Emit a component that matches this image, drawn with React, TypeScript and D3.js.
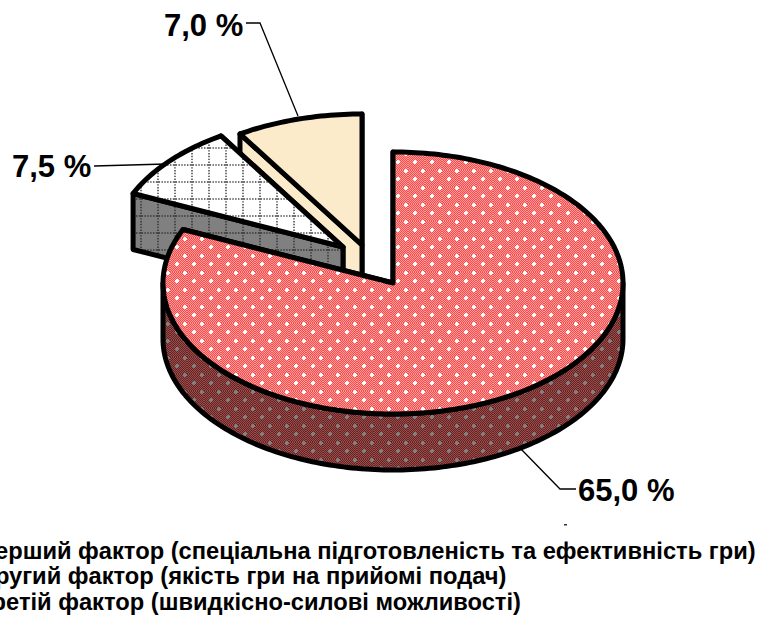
import React from "react";
import * as d3 from "d3";

const sliceNames = ["Перший фактор", "Другий фактор", "Третій фактор"];
const sliceWeights = [81.7, 9.4, 8.9];
const sliceLabels = ["65,0 %", "7,5 %", "7,0 %"];
const legendLines = [
  "Перший фактор (спеціальна підготовленість та ефективність гри)",
  "Другий фактор (якість гри на прийомі подач)",
  "Третій фактор (швидкісно-силові можливості)",
];
const centers: [number, number][] = [[393, 283], [343, 247], [362, 245]];
const topFills = ["url(#redTop)", "url(#gridTop)", "#FBEBCB"];
const wallFills = ["url(#redWall)", "url(#gridWall)", "#FBEBCB"];
const leaders: [number, number][][] = [
  [[520, 448], [560, 489], [576, 489]],
  [[166, 164], [94, 166]],
  [[298, 116], [260, 23], [246, 23]],
];
const labelPos: [number, number][] = [[578, 501], [12, 177], [164, 36]];
const legendBaselines = [559, 584, 610];

const RX = 230, RY = 131, DEPTH = 56;
const SW = 5;

const pieGen = d3.pie<number>().sort(null).startAngle(0).endAngle(2 * Math.PI);
const arcsData = pieGen(sliceWeights);
const lineGen = d3.line<[number, number]>().curve(d3.curveLinear);

function pt(c: [number, number], a: number, dy = 0): [number, number] {
  return [c[0] + RX * Math.sin(a), c[1] - RY * Math.cos(a) + dy];
}
function arcPts(c: [number, number], a0: number, a1: number, dy = 0) {
  const n = Math.max(2, Math.ceil((a1 - a0) / 0.02));
  return d3.range(n + 1).map((i) => pt(c, a0 + ((a1 - a0) * i) / n, dy));
}
function topPath(c: [number, number], a0: number, a1: number) {
  return lineGen([c, ...arcPts(c, a0, a1)]) + "Z";
}
function edgeWall(c: [number, number], a: number) {
  const p = pt(c, a);
  return lineGen([c, p, [p[0], p[1] + DEPTH], [c[0], c[1] + DEPTH]]) + "Z";
}
function rimWall(c: [number, number], a0: number, a1: number) {
  const lo = Math.max(a0, Math.PI / 2);
  const hi = Math.min(a1, (3 * Math.PI) / 2);
  if (hi <= lo) return null;
  const up = arcPts(c, lo, hi);
  const down = arcPts(c, lo, hi, DEPTH).reverse();
  return lineGen([...up, ...down]) + "Z";
}

const plus = (x: number, y: number, fill: string, k: string) => (
  <path key={k} d={`M${x - 1},${y - 1}V${y - 2}h2v1h1v2h-1v1h-2v-1h-1v-2z`} fill={fill} />
);

export default function App() {
  const order = [2, 1, 0];
  return (
    <svg width={761} height={624} style={{ position: "absolute", left: 0, top: 0, background: "#fff" }}>
      <defs>
        <pattern id="chkRed" width={2} height={2} patternUnits="userSpaceOnUse">
          <rect width={2} height={2} fill="#FF9C9C" />
          <rect width={1} height={1} fill="#FA4A4A" />
          <rect x={1} y={1} width={1} height={1} fill="#FA4A4A" />
        </pattern>
        <pattern id="redTop" width={17} height={17} patternUnits="userSpaceOnUse">
          <rect width={17} height={17} fill="url(#chkRed)" />
          {plus(7, 9, "#fff", "a")}
          {plus(15, 1, "#fff", "b")}
          {plus(-2, 1, "#fff", "c")}
          {plus(15, 18, "#fff", "d")}
          {plus(-2, 18, "#fff", "e")}
        </pattern>
        <pattern id="chkDark" width={2} height={2} patternUnits="userSpaceOnUse">
          <rect width={2} height={2} fill="#8F5050" />
          <rect width={1} height={1} fill="#6E2020" />
          <rect x={1} y={1} width={1} height={1} fill="#6E2020" />
        </pattern>
        <pattern id="redWall" width={17} height={17} patternUnits="userSpaceOnUse">
          <rect width={17} height={17} fill="url(#chkDark)" />
          {plus(7, 9, "#808080", "a")}
          {plus(15, 1, "#808080", "b")}
          {plus(-2, 1, "#808080", "c")}
          {plus(15, 18, "#808080", "d")}
          {plus(-2, 18, "#808080", "e")}
        </pattern>
        <pattern id="gridTop" width={17} height={17} patternUnits="userSpaceOnUse">
          <rect width={17} height={17} fill="#fff" />
          <path d="M0,12H17M5,0V17" stroke="#444" strokeWidth={1.5} strokeDasharray="1.4 1.43" fill="none" />
        </pattern>
        <pattern id="gridWall" width={17} height={17} patternUnits="userSpaceOnUse">
          <rect width={17} height={17} fill="#808080" />
          <path d="M0,12H17M5,0V17" stroke="#333" strokeWidth={1.5} strokeDasharray="1.4 1.43" fill="none" />
        </pattern>
      </defs>

      {order.map((i) => {
        const d = arcsData[i];
        const c = centers[i];
        const rim = rimWall(c, d.startAngle, d.endAngle);
        const common = { stroke: "#000", strokeWidth: SW, strokeLinejoin: "round" as const };
        return (
          <g key={sliceNames[i]}>
            <path d={edgeWall(c, d.endAngle)} fill={wallFills[i]} {...common} />
            <path d={edgeWall(c, d.startAngle)} fill={wallFills[i]} {...common} />
            {rim && <path d={rim} fill={wallFills[i]} {...common} />}
            <path d={topPath(c, d.startAngle, d.endAngle)} fill={topFills[i]} {...common} />
          </g>
        );
      })}

      {leaders.map((l, i) => (
        <path key={i} d={lineGen(l) ?? ""} fill="none" stroke="#000" strokeWidth={1.3} />
      ))}
      {sliceLabels.map((t, i) => (
        <text key={t} x={labelPos[i][0]} y={labelPos[i][1]} fontFamily="Liberation Sans" fontWeight="bold" fontSize={31} fill="#000">
          {t}
        </text>
      ))}
      <rect x={564} y={524} width={3} height={1.5} fill="#333" />
      {legendLines.map((t, i) => (
        <text key={t} x={-22} y={legendBaselines[i]} fontFamily="Liberation Sans" fontWeight="bold" fontSize={23.7} fill="#000">
          {t}
        </text>
      ))}
    </svg>
  );
}
